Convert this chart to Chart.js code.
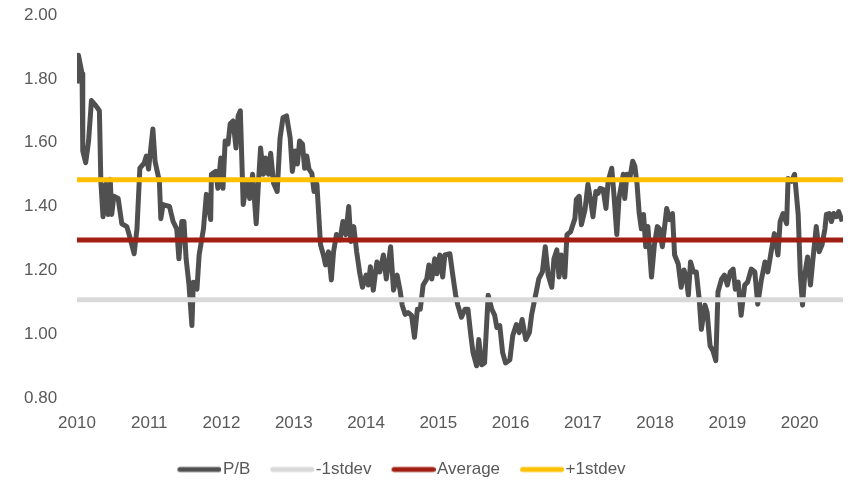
<!DOCTYPE html>
<html>
<head>
<meta charset="utf-8">
<script src="https://cdn.jsdelivr.net/npm/chart.js@4/dist/chart.umd.min.js"></script>
<style>
  html, body { margin: 0; padding: 0; background: #ffffff; }
  #wrap { width: 850px; height: 480px; }
</style>
</head>
<body>
<div id="wrap"><canvas id="chart" width="850" height="480"></canvas></div>
<script>
// P/B history (year fraction, value)
const pbYears = [
  2010.00, 2010.02, 2010.07, 2010.08, 2010.12, 2010.16, 2010.20, 2010.26, 2010.31, 2010.33,
  2010.36, 2010.40, 2010.43, 2010.46, 2010.48, 2010.51, 2010.57, 2010.62, 2010.69, 2010.73,
  2010.79, 2010.83, 2010.87, 2010.93, 2010.96, 2010.99, 2011.05, 2011.08, 2011.11, 2011.14,
  2011.16, 2011.19, 2011.28, 2011.33, 2011.38, 2011.41, 2011.45, 2011.48, 2011.51, 2011.55,
  2011.59, 2011.61, 2011.66, 2011.69, 2011.75, 2011.79, 2011.85, 2011.86, 2011.92, 2011.95,
  2011.99, 2012.02, 2012.05, 2012.09, 2012.12, 2012.16, 2012.20, 2012.23, 2012.26, 2012.30,
  2012.35, 2012.39, 2012.43, 2012.48, 2012.51, 2012.54, 2012.58, 2012.61, 2012.65, 2012.68,
  2012.72, 2012.77, 2012.81, 2012.85, 2012.90, 2012.95, 2012.98, 2013.02, 2013.05, 2013.08,
  2013.12, 2013.15, 2013.18, 2013.21, 2013.25, 2013.28, 2013.32, 2013.37, 2013.41, 2013.44,
  2013.48, 2013.52, 2013.55, 2013.59, 2013.64, 2013.68, 2013.72, 2013.76, 2013.79, 2013.83,
  2013.87, 2013.91, 2013.95, 2014.00, 2014.03, 2014.06, 2014.10, 2014.15, 2014.19, 2014.24,
  2014.28, 2014.34, 2014.38, 2014.43, 2014.47, 2014.50, 2014.54, 2014.58, 2014.63, 2014.67,
  2014.71, 2014.75, 2014.79, 2014.84, 2014.87, 2014.91, 2014.95, 2014.98, 2015.02, 2015.06,
  2015.09, 2015.16, 2015.20, 2015.24, 2015.27, 2015.32, 2015.37, 2015.41, 2015.45, 2015.48,
  2015.53, 2015.56, 2015.60, 2015.64, 2015.69, 2015.74, 2015.78, 2015.81, 2015.85, 2015.89,
  2015.93, 2015.99, 2016.03, 2016.08, 2016.12, 2016.16, 2016.21, 2016.26, 2016.29, 2016.32,
  2016.36, 2016.39, 2016.44, 2016.48, 2016.52, 2016.57, 2016.60, 2016.64, 2016.67, 2016.70,
  2016.75, 2016.78, 2016.83, 2016.89, 2016.91, 2016.95, 2016.98, 2017.03, 2017.07, 2017.11,
  2017.14, 2017.18, 2017.21, 2017.24, 2017.28, 2017.32, 2017.35, 2017.40, 2017.43, 2017.47,
  2017.50, 2017.56, 2017.58, 2017.61, 2017.65, 2017.69, 2017.72, 2017.75, 2017.78, 2017.81,
  2017.84, 2017.87, 2017.90, 2017.95, 2017.99, 2018.03, 2018.06, 2018.10, 2018.16, 2018.20,
  2018.24, 2018.27, 2018.32, 2018.36, 2018.40, 2018.43, 2018.46, 2018.49, 2018.53, 2018.57,
  2018.61, 2018.64, 2018.69, 2018.72, 2018.76, 2018.80, 2018.84, 2018.87, 2018.92, 2018.96,
  2019.00, 2019.04, 2019.08, 2019.11, 2019.15, 2019.19, 2019.24, 2019.28, 2019.33, 2019.38,
  2019.42, 2019.47, 2019.52, 2019.56, 2019.61, 2019.65, 2019.70, 2019.73, 2019.77, 2019.82,
  2019.84, 2019.89, 2019.93, 2019.98, 2020.01, 2020.04, 2020.07, 2020.11, 2020.15, 2020.18,
  2020.23, 2020.27, 2020.31, 2020.35, 2020.37, 2020.41, 2020.44, 2020.47, 2020.51, 2020.54,
  2020.59
];
const pbValues = [
  1.785, 1.874, 1.816, 1.574, 1.537, 1.605, 1.732, 1.716, 1.700, 1.479,
  1.368, 1.470, 1.375, 1.485, 1.375, 1.432, 1.425, 1.346, 1.337, 1.305,
  1.252, 1.330, 1.520, 1.536, 1.558, 1.517, 1.643, 1.542, 1.510, 1.479,
  1.362, 1.406, 1.400, 1.353, 1.330, 1.236, 1.353, 1.353, 1.236, 1.154,
  1.027, 1.163, 1.141, 1.248, 1.330, 1.438, 1.359, 1.501, 1.510, 1.457,
  1.552, 1.457, 1.605, 1.596, 1.659, 1.668, 1.583, 1.684, 1.700, 1.406,
  1.479, 1.425, 1.501, 1.346, 1.470, 1.583, 1.501, 1.552, 1.501, 1.567,
  1.473, 1.447, 1.615, 1.678, 1.684, 1.615, 1.510, 1.574, 1.533, 1.605,
  1.596, 1.520, 1.558, 1.517, 1.504, 1.447, 1.470, 1.280, 1.248, 1.217,
  1.258, 1.170, 1.258, 1.312, 1.296, 1.353, 1.312, 1.400, 1.290, 1.337,
  1.258, 1.195, 1.147, 1.185, 1.154, 1.211, 1.138, 1.226, 1.195, 1.248,
  1.173, 1.274, 1.138, 1.185, 1.138, 1.091, 1.062, 1.068, 1.059, 0.990,
  1.078, 1.078, 1.154, 1.173, 1.217, 1.173, 1.236, 1.189, 1.248, 1.179,
  1.248, 1.252, 1.185, 1.122, 1.091, 1.053, 1.078, 1.078, 0.996, 0.942,
  0.901, 0.983, 0.904, 0.910, 1.122, 1.078, 1.059, 1.021, 1.027, 0.942,
  0.910, 0.920, 0.996, 1.030, 1.005, 1.046, 0.983, 1.005, 1.059, 1.094,
  1.138, 1.173, 1.195, 1.274, 1.185, 1.147, 1.236, 1.264, 1.179, 1.248,
  1.179, 1.312, 1.321, 1.362, 1.422, 1.432, 1.343, 1.390, 1.470, 1.416,
  1.368, 1.447, 1.441, 1.457, 1.454, 1.394, 1.479, 1.520, 1.438, 1.312,
  1.425, 1.501, 1.425, 1.501, 1.488, 1.542, 1.526, 1.470, 1.378, 1.330,
  1.375, 1.274, 1.337, 1.179, 1.280, 1.337, 1.330, 1.274, 1.394, 1.359,
  1.378, 1.248, 1.220, 1.147, 1.201, 1.179, 1.122, 1.226, 1.195, 1.195,
  1.110, 1.015, 1.091, 1.068, 0.964, 0.948, 0.917, 1.132, 1.173, 1.185,
  1.154, 1.195, 1.204, 1.141, 1.163, 1.059, 1.154, 1.163, 1.204, 1.195,
  1.094, 1.170, 1.226, 1.195, 1.264, 1.315, 1.248, 1.353, 1.378, 1.346,
  1.488, 1.479, 1.501, 1.375, 1.185, 1.091, 1.185, 1.242, 1.154, 1.226,
  1.337, 1.258, 1.280, 1.330, 1.375, 1.378, 1.353, 1.378, 1.368, 1.384,
  1.353
];

// flat reference lines: start and end of the period
const bandYears = [2010, 2020.6];
const minusStdev = [1.108, 1.108];
const average = [1.295, 1.295];
const plusStdev = [1.484, 1.484];

const seriesNames = ["P/B", "-1stdev", "Average", "+1stdev"];
const seriesColors = ["#505050", "#d9d9d9", "#a01e12", "#ffc000"];

const yTicks = [0.8, 1.0, 1.2, 1.4, 1.6, 1.8, 2.0];

const toPoints = (xs, ys) => xs.map((x, i) => ({ x: x, y: ys[i] }));

// legend swatch: thick line sitting right next to the text
function swatch(color) {
  const c = document.createElement('canvas');
  c.width = 67;
  c.height = 8;
  const g = c.getContext('2d');
  g.strokeStyle = color;
  g.lineWidth = 5;
  g.lineCap = 'round';
  g.beginPath();
  g.moveTo(67 - 44 + 2.5, 4);
  g.lineTo(67 - 2.5, 4);
  g.stroke();
  return c;
}

// nudge the legend row to where the original sits
const legendShift = {
  id: 'legendShift',
  afterLayout(chart) {
    const lg = chart.legend;
    lg.left -= 40;
    lg.right -= 40;
    lg.top += 8;
    lg.bottom += 8;
  }
};

const font = { family: "'Liberation Sans', Arial, sans-serif", size: 17 };

new Chart('chart', {
  type: 'line',
  data: {
    datasets: [
      { label: seriesNames[0], data: toPoints(pbYears, pbValues), borderColor: seriesColors[0], borderWidth: 5, order: 1 },
      { label: seriesNames[1], data: toPoints(bandYears, minusStdev), borderColor: seriesColors[1], borderWidth: 5, order: 0 },
      { label: seriesNames[2], data: toPoints(bandYears, average), borderColor: seriesColors[2], borderWidth: 5, order: 0 },
      { label: seriesNames[3], data: toPoints(bandYears, plusStdev), borderColor: seriesColors[3], borderWidth: 5, order: 0 }
    ]
  },
  options: {
    responsive: false,
    animation: false,
    layout: { padding: { top: 15, right: 7, left: 24, bottom: 0 } },
    elements: {
      point: { radius: 0, hoverRadius: 0 },
      line: { tension: 0, borderJoinStyle: 'round', borderCapStyle: 'butt', fill: false }
    },
    scales: {
      x: {
        type: 'linear',
        min: 2010,
        max: 2020.6,
        grid: { display: false, drawTicks: false },
        border: { display: false },
        ticks: {
          stepSize: 1,
          includeBounds: false,
          padding: 15,
          color: '#595959',
          font: font,
          maxRotation: 0,
          callback: function (value) {
            return Number.isInteger(value) ? String(value) : '';
          }
        },
        afterFit: function (scale) { scale.height = 51; }
      },
      y: {
        min: 0.8,
        max: 2.0,
        grid: { display: false, drawTicks: false },
        border: { display: false },
        afterBuildTicks: function (scale) {
          scale.ticks = yTicks.map(v => ({ value: v }));
        },
        ticks: {
          padding: 3,
          crossAlign: 'far',
          color: '#595959',
          font: font,
          callback: function (value) { return value.toFixed(2); }
        },
        afterFit: function (scale) { scale.width = 53; }
      }
    },
    plugins: {
      tooltip: { enabled: false },
      legend: {
        position: 'bottom',
        labels: {
          usePointStyle: true,
          pointStyleWidth: 53,
          padding: 4,
          color: '#595959',
          font: font,
          generateLabels: function (chart) {
            const items = Chart.defaults.plugins.legend.labels.generateLabels(chart);
            items.forEach(it => { it.pointStyle = swatch(seriesColors[it.datasetIndex]); });
            return items.sort((a, b) => a.datasetIndex - b.datasetIndex);
          }
        }
      }
    }
  },
  plugins: [legendShift]
});
</script>
</body>
</html>
